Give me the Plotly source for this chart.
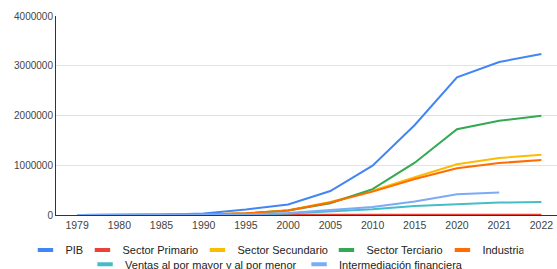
import plotly.graph_objects as go

years = ["1979", "1980", "1985", "1990", "1995", "2000", "2005", "2010", "2015", "2020", "2021", "2022"]

pib = [1500, 2000, 6000, 30000, 110000, 210000, 482000, 991000, 1809000, 2768000, 3075000, 3236000]
sector_primario = [50, 70, 200, 600, 1500, 2500, 3500, 4500, 5500, 6000, 6500, 7000]
sector_secundario = [500, 700, 2000, 10000, 35000, 95000, 260000, 490000, 758000, 1019000, 1146000, 1212000]
sector_terciario = [500, 700, 2000, 10000, 30000, 90000, 235000, 520000, 1051000, 1723000, 1895000, 1996000]
industria = [450, 650, 1800, 9000, 33000, 90000, 250000, 470000, 724000, 939000, 1045000, 1106000]
ventas = [150, 200, 600, 3000, 10000, 30000, 67000, 115000, 180000, 220000, 250000, 260000]
intermediacion = [100, 150, 500, 2500, 9000, 40000, 95000, 160000, 270000, 415000, 450000, None]

y_ticks = [0, 1000000, 2000000, 3000000, 4000000]

# name, values, colour, legend row, legend entry width (px)
series = [
    ("PIB", pib, "#4285F4", "legend", 12),
    ("Sector Primario", sector_primario, "#EA4335", "legend", 70),
    ("Sector Secundario", sector_secundario, "#FBBC04", "legend", 84),
    ("Sector Terciario", sector_terciario, "#34A853", "legend", 71),
    ("Industria", industria, "#FF6D01", "legend", 36),
    ("Ventas al por mayor y al por menor", ventas, "#46BDC6", "legend2", 169),
    ("Intermediación financiera", intermediacion, "#7BAAF7", "legend2", 119),
]

fig = go.Figure()
for name, vals, color, lg, lw in series:
    fig.add_trace(go.Scatter(
        x=years, y=vals, mode="lines", name=name,
        line=dict(color=color, width=2),
        showlegend=False, hoverinfo="skip", connectgaps=False,
    ))
for name, vals, color, lg, lw in series:
    fig.add_trace(go.Scatter(
        x=[None], y=[None], mode="markers", name=name, legend=lg,
        legendwidth=lw,
        marker=dict(symbol="line-ew", size=11, color=color,
                    line=dict(width=4, color=color)),
        showlegend=True,
    ))

font_family = "Liberation Sans, Arial, sans-serif"
legend_common = dict(
    orientation="h", yanchor="middle", xanchor="left",
    font=dict(family=font_family, size=11, color="#222222"),
    bgcolor="rgba(0,0,0,0)", borderwidth=0, itemwidth=30,
    itemclick=False, itemdoubleclick=False,
)

fig.update_layout(
    width=557, height=269,
    margin=dict(l=56, r=0, t=16, b=54, autoexpand=False),
    paper_bgcolor="white", plot_bgcolor="white",
    font=dict(family=font_family, color="#444444"),
    legend=dict(x=-0.061, y=-0.176, **legend_common),
    legend2=dict(x=0.058, y=-0.248, **legend_common),
    xaxis=dict(
        type="category", categoryorder="array", categoryarray=years,
        range=[-0.5, 11.37], showgrid=False, zeroline=False,
        showline=True, linecolor="#333333", linewidth=1,
        ticks="", tickfont=dict(size=10.5, color="#444444"),
        fixedrange=True, automargin=False,
    ),
    yaxis=dict(
        range=[0, 4000000], tickvals=y_ticks, tickformat="d",
        showgrid=True, gridcolor="#e2e2e2", gridwidth=1,
        zeroline=False, showline=True, linecolor="#333333", linewidth=1,
        ticks="", tickfont=dict(size=10, color="#444444"),
        ticklabelstandoff=0, fixedrange=True, automargin=False,
    ),
)

fig.write_html(
    "out.html",
    config={"displayModeBar": False},
    post_script="document.body.style.margin='0';document.body.style.overflow='hidden';",
)
